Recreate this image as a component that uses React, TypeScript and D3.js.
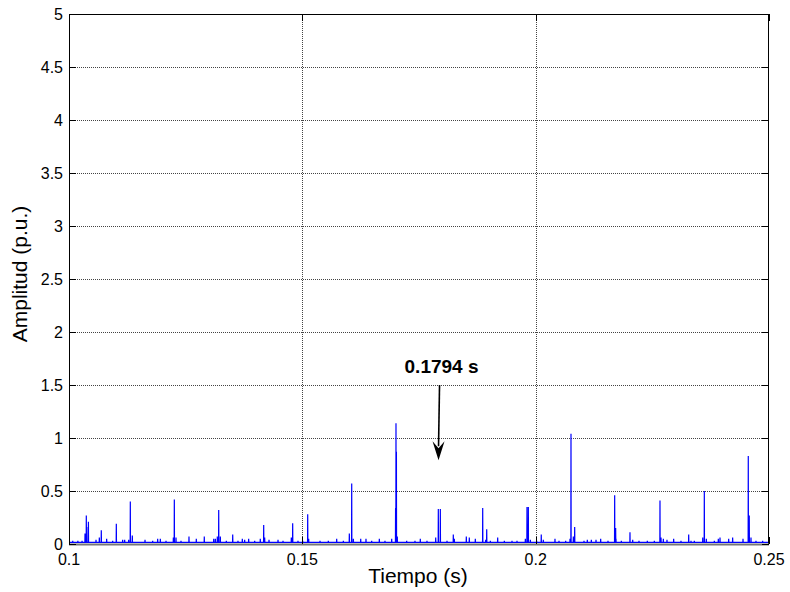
import React from "react";
import * as d3 from "d3";

// Main impulses of the amplitude trace (time in s, amplitude in p.u.)
const peakTimes = [
  0.10371, 0.1038, 0.10416, 0.10692, 0.11014, 0.11314, 0.12257, 0.13208, 0.14172, 0.14793,
  0.15115, 0.16058, 0.16998, 0.17007, 0.17016, 0.17914, 0.17957, 0.18235, 0.18865, 0.18951,
  0.19814, 0.19843, 0.2012, 0.20757, 0.20836, 0.21693, 0.21714, 0.22021, 0.22664, 0.23279,
  0.23614, 0.24556, 0.24577,
];
const peakValues = [
  0.27, 0.16, 0.21, 0.13, 0.19, 0.4, 0.42, 0.32, 0.18, 0.195,
  0.28, 0.57, 0.34, 1.14, 0.87, 0.33, 0.33, 0.09, 0.34, 0.14,
  0.35, 0.35, 0.09, 1.04, 0.16, 0.46, 0.15, 0.11, 0.41, 0.09,
  0.5, 0.83, 0.27,
];

// Low-level ripple riding on the baseline
const rippleTimes = [
  0.1008, 0.1019, 0.1028, 0.10343, 0.10579, 0.1065, 0.10807, 0.10936, 0.1115, 0.11193,
  0.11279, 0.11357, 0.11629, 0.11793, 0.119, 0.11957, 0.12079, 0.12236, 0.12293, 0.124,
  0.12571, 0.12728, 0.12899, 0.13101, 0.13136, 0.13178, 0.13243, 0.13371, 0.13508, 0.13621,
  0.13714, 0.13764, 0.1385, 0.13979, 0.14099, 0.14193, 0.14286, 0.14479, 0.14586, 0.14764,
  0.14907, 0.15007, 0.15136, 0.15379, 0.15557, 0.15736, 0.15879, 0.16007, 0.16093, 0.16251,
  0.16364, 0.16486, 0.1665, 0.16771, 0.16915, 0.17035, 0.17236, 0.17414, 0.17528, 0.17671,
  0.17858, 0.181, 0.18257, 0.18514, 0.18578, 0.18707, 0.18929, 0.19029, 0.19186, 0.19329,
  0.19493, 0.196, 0.19779, 0.19886, 0.20021, 0.20164, 0.20414, 0.205, 0.20643, 0.20736,
  0.20807, 0.21036, 0.21107, 0.21193, 0.21293, 0.21393, 0.2155, 0.21721, 0.21836, 0.22079,
  0.22214, 0.22393, 0.22543, 0.22686, 0.22736, 0.22814, 0.22957, 0.23114, 0.23329, 0.234,
  0.2358, 0.23657, 0.23829, 0.23914, 0.2395, 0.24136, 0.24221, 0.24443, 0.24614, 0.24721,
  0.24864,
];
const rippleValues = [
  0.03, 0.03, 0.03, 0.1, 0.04, 0.06, 0.05, 0.03, 0.04, 0.04,
  0.04, 0.08, 0.04, 0.03, 0.05, 0.05, 0.03, 0.06, 0.06, 0.03,
  0.07, 0.05, 0.07, 0.05, 0.05, 0.07, 0.07, 0.03, 0.09, 0.03,
  0.05, 0.04, 0.05, 0.03, 0.05, 0.06, 0.04, 0.04, 0.03, 0.06,
  0.03, 0.03, 0.05, 0.03, 0.03, 0.05, 0.03, 0.1, 0.05, 0.05,
  0.05, 0.03, 0.05, 0.03, 0.05, 0.07, 0.03, 0.03, 0.05, 0.03,
  0.06, 0.03, 0.05, 0.07, 0.06, 0.05, 0.04, 0.03, 0.06, 0.03,
  0.03, 0.03, 0.05, 0.04, 0.03, 0.04, 0.05, 0.03, 0.03, 0.05,
  0.07, 0.03, 0.04, 0.04, 0.04, 0.05, 0.03, 0.05, 0.03, 0.04,
  0.03, 0.03, 0.03, 0.06, 0.05, 0.04, 0.05, 0.03, 0.03, 0.03,
  0.06, 0.05, 0.03, 0.05, 0.06, 0.05, 0.06, 0.05, 0.06, 0.03,
  0.03,
];

const baseline = 0.016;
const xTicks = [0.1, 0.15, 0.2, 0.25];
const xTickLabels = ["0.1", "0.15", "0.2", "0.25"];
const yTicks = [0, 0.5, 1, 1.5, 2, 2.5, 3, 3.5, 4, 4.5, 5];
const yTickLabels = ["0", "0.5", "1", "1.5", "2", "2.5", "3", "3.5", "4", "4.5", "5"];

const markerTime = 0.1794;
const markerLabel = "0.1794 s";
const arrowFrom = 1.5;
const arrowTo = 0.79;

const W = 790;
const H = 592;
const M = { left: 69, right: 21, top: 14, bottom: 48 };

export default function App() {
  const x = d3.scaleLinear().domain([0.1, 0.25]).range([M.left, W - M.right]);
  const y = d3.scaleLinear().domain([0, 5]).range([H - M.bottom, M.top]);

  const events = [
    ...peakTimes.map((t, i) => ({ t, v: peakValues[i] })),
    ...rippleTimes.map((t, i) => ({ t, v: rippleValues[i] })),
  ].sort((a, b) => a.t - b.t);

  const dt = 0.00003;
  const pts: [number, number][] = [[0.1, baseline]];
  events.forEach((e) => {
    pts.push([e.t - dt, baseline], [e.t, e.v], [e.t + dt, baseline]);
  });
  pts.push([0.25, baseline]);

  const line = d3
    .line<[number, number]>()
    .x((d) => x(d[0]))
    .y((d) => y(d[1]));

  const font = "Liberation Sans, Arial, Helvetica, sans-serif";
  const x0 = M.left;
  const x1 = W - M.right;
  const y0 = H - M.bottom;
  const y1 = M.top;
  const tickLen = 7;

  const ax = x(markerTime);
  const ayFrom = y(arrowFrom);
  const ayTo = y(arrowTo);

  return (
    <svg
      width={W}
      height={H}
      style={{ position: "absolute", left: 0, top: 0, background: "#fff" }}
    >
      <rect x={0} y={0} width={W} height={H} fill="#fff" />
      {/* grid */}
      <g stroke="#444" strokeWidth={1} strokeDasharray="1 1">
        {xTicks.slice(1, -1).map((t) => (
          <line key={"gx" + t} x1={Math.round(x(t)) + 0.5} x2={Math.round(x(t)) + 0.5} y1={y1} y2={y0} />
        ))}
        {yTicks.slice(1, -1).map((t) => (
          <line key={"gy" + t} x1={x0} x2={x1} y1={Math.round(y(t)) + 0.5} y2={Math.round(y(t)) + 0.5} />
        ))}
      </g>

      {/* signal */}
      <path d={line(pts) || ""} fill="none" stroke="#0000ff" strokeWidth={1.2} />

      {/* frame */}
      <rect x={x0 + 0.5} y={y1 + 0.5} width={x1 - x0 - 1} height={y0 - y1} fill="none" stroke="#000" strokeWidth={1} />
      <line x1={x0} x2={x1} y1={y0 + 0.5} y2={y0 + 0.5} stroke="#777" strokeWidth={2} />

      {/* ticks */}
      <g stroke="#000" strokeWidth={1}>
        {yTicks.map((t) => {
          const yy = Math.round(y(t)) + 0.5;
          return (
            <g key={"ty" + t}>
              <line x1={x0} x2={x0 + tickLen} y1={yy} y2={yy} />
              <line x1={x1 - tickLen} x2={x1} y1={yy} y2={yy} />
            </g>
          );
        })}
        {xTicks.map((t) => {
          const xx = Math.round(x(t)) + 0.5;
          return (
            <g key={"tx" + t}>
              <line x1={xx} x2={xx} y1={y0} y2={y0 - tickLen} />
              <line x1={xx} x2={xx} y1={y1} y2={y1 + tickLen} />
            </g>
          );
        })}
      </g>

      {/* tick labels */}
      <g fontFamily={font} fontSize={16} fill="#000">
        {yTicks.map((t, i) => (
          <text key={"ly" + t} x={x0 - 6} y={y(t)} dy="0.35em" textAnchor="end">
            {yTickLabels[i]}
          </text>
        ))}
        {xTicks.map((t, i) => (
          <text key={"lx" + t} x={x(t)} y={y0 + 21} textAnchor="middle">
            {xTickLabels[i]}
          </text>
        ))}
      </g>

      {/* axis titles */}
      <text x={418} y={H - 9} textAnchor="middle" fontFamily={font} fontSize={21} fill="#000">
        Tiempo (s)
      </text>
      <text
        transform={`translate(27, ${(y0 + y1) / 2 - 5}) rotate(-90)`}
        textAnchor="middle"
        fontFamily={font}
        fontSize={21}
        fill="#000"
      >
        Amplitud (p.u.)
      </text>

      {/* marker annotation */}
      <text x={ax + 2} y={ayFrom - 12} textAnchor="middle" fontFamily={font} fontSize={19} fontWeight="bold" fill="#000">
        {markerLabel}
      </text>
      <line x1={ax} x2={ax - 1} y1={ayFrom} y2={ayTo - 14} stroke="#000" strokeWidth={1.6} />
      <path
        d={`M${ax - 1 - 6},${ayTo - 19} L${ax - 1},${ayTo - 12} L${ax - 1 + 6},${ayTo - 19} L${ax - 1},${ayTo} Z`}
        fill="#000"
      />
    </svg>
  );
}
